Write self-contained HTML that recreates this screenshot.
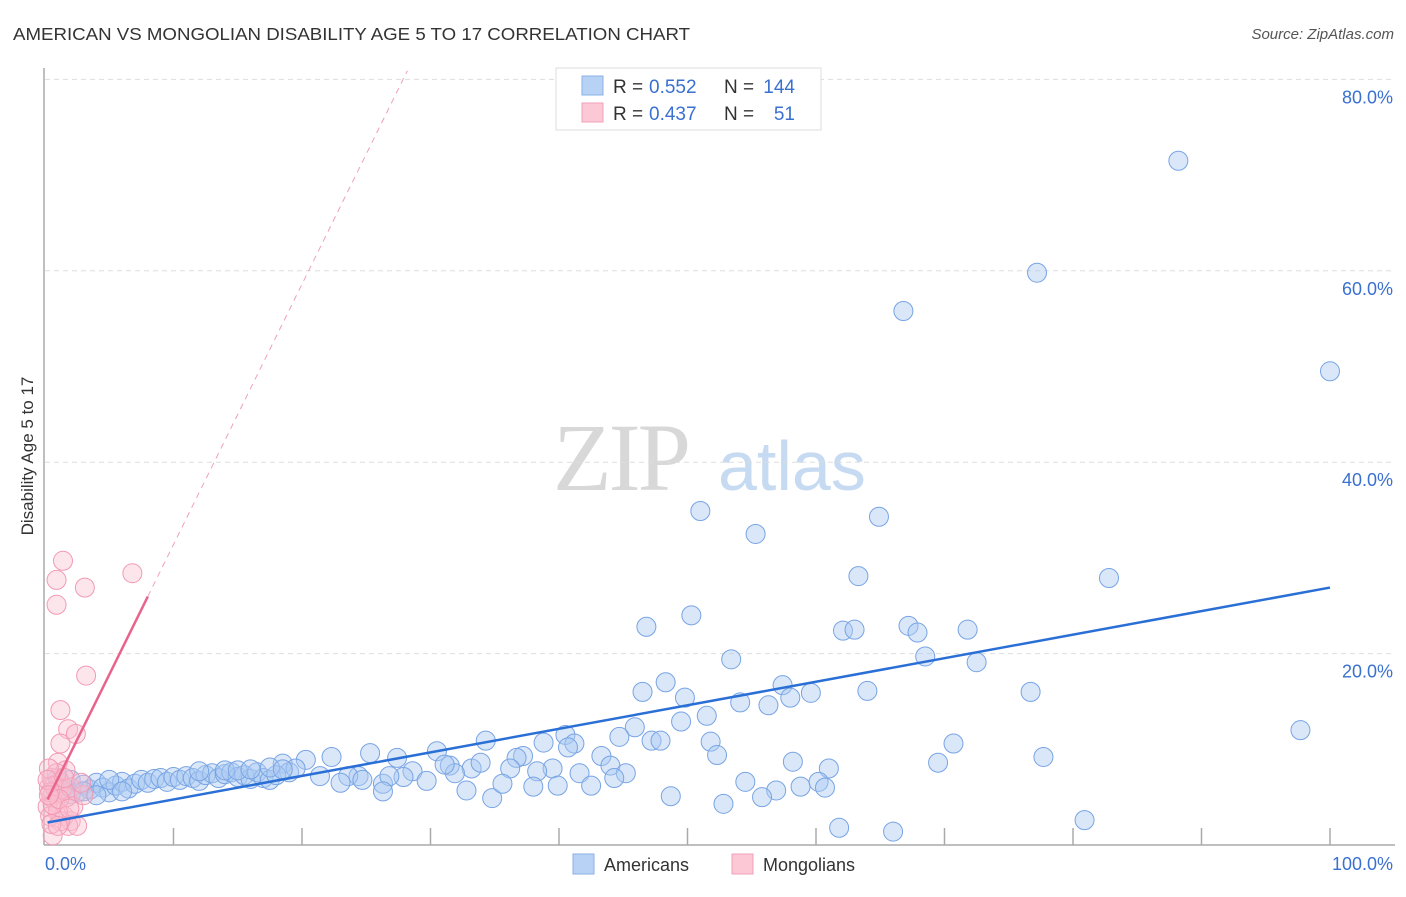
<!DOCTYPE html>
<html><head><meta charset="utf-8"><style>
body{margin:0;background:#fff;font-family:"Liberation Sans",sans-serif;}
</style></head><body>
<svg id="chart" width="1406" height="892" viewBox="0 0 1406 892" xmlns="http://www.w3.org/2000/svg" font-family="Liberation Sans, sans-serif">
<text x="13" y="40" font-size="17.5" fill="#333" textLength="677" lengthAdjust="spacingAndGlyphs">AMERICAN VS MONGOLIAN DISABILITY AGE 5 TO 17 CORRELATION CHART</text>
<text x="1394" y="39" font-size="15" fill="#555" font-style="italic" text-anchor="end">Source: ZipAtlas.com</text>
<g>
<text x="553" y="490" font-size="96" fill="#d8d8d8" style="font-family:'Liberation Serif',serif" letter-spacing="-3">ZIP</text>
<text x="718" y="490" font-size="70" fill="#c6daf2">atlas</text>
</g>
<g id="grid"></g>
<g id="axes"></g>
<g id="pts"></g>
<g id="lines"></g>
<text transform="translate(33,456) rotate(-90)" font-size="17" fill="#333" text-anchor="middle">Disability Age 5 to 17</text>
<text x="45" y="870" font-size="18" fill="#3a70d0">0.0%</text>
<text x="1393" y="870" font-size="18" fill="#3a70d0" text-anchor="end">100.0%</text>
<g>
<rect x="556" y="68" width="265" height="62" fill="#fff" stroke="#ddd"/>
<rect x="582" y="76" width="21" height="19" fill="#b8d2f6" stroke="#8ab0e6"/>
<rect x="582" y="103" width="21" height="19" fill="#fcc8d6" stroke="#f0a0b8"/>
<text x="613" y="93" font-size="19" fill="#333">R =</text>
<text x="649" y="93" font-size="19" fill="#3a70d0">0.552</text>
<text x="724" y="93" font-size="19" fill="#333">N =</text>
<text x="795" y="93" font-size="19" fill="#3a70d0" text-anchor="end">144</text>
<text x="613" y="120" font-size="19" fill="#333">R =</text>
<text x="649" y="120" font-size="19" fill="#3a70d0">0.437</text>
<text x="724" y="120" font-size="19" fill="#333">N =</text>
<text x="795" y="120" font-size="19" fill="#3a70d0" text-anchor="end">51</text>
</g>
<g>
<rect x="573" y="854" width="21" height="20" fill="#b8d2f6" stroke="#8ab0e6"/>
<text x="604" y="871" font-size="18" fill="#333">Americans</text>
<rect x="732" y="854" width="21" height="20" fill="#fcc8d6" stroke="#f0a0b8"/>
<text x="763" y="871" font-size="18" fill="#333">Mongolians</text>
</g>
</svg>
<script>
const yTicks=[20,40,60,80];
const yTickLabels=["20.0%","40.0%","60.0%","80.0%"];
const xTicks=[0,10,20,30,40,50,60,70,80,90,100];
const americansX=[88.2,77.2,66.8,100,51,55.3,64.9,63.3,82.8,46.8,50.3,62.1,63,67.2,67.9,71.8,53.4,68.5,72.5,48.3,46.5,49.8,57.4,59.6,64,76.7,54.1,56.3,58,51.5,49.5,97.7,45.9,44.7,40.5,41.2,40.7,38.8,47.2,47.9,51.8,70.7,52.3,43.3,34.3,30.5,77.7,69.5,58.2,61,37.2,36.7,27.4,25.3,22.3,20.3,18.5,41.6,44,45.2,44.3,39.5,38.3,36.2,33.2,31.5,33.9,31.9,31.1,28.6,27.9,29.7,26.3,26.8,24.4,23.6,24.7,54.5,56.9,58.8,60.2,60.7,55.8,52.8,48.7,34.8,32.8,35.6,38,39.9,42.5,26.3,21.4,23,19,19.5,80.9,61.8,66,
1,1.5,2,2.5,3,3.5,4,4.5,5,5.5,6,6.5,7,7.5,8,8.5,9,9.5,10,10.5,11,11.5,12,12.5,13,13.5,14,14.5,15,15.5,16,16.5,17,17.5,18,2,3,4,5,6,1,0.8,12,14,15,16,17.5,18.5];
const americansY=[71.5,59.8,55.8,49.5,34.9,32.5,34.3,28.1,27.9,22.8,24,22.4,22.5,22.9,22.2,22.5,19.4,19.7,19.1,17,16,15.4,16.7,15.9,16.1,16,14.9,14.6,15.4,13.5,12.9,12,12.3,11.3,11.5,10.6,10.2,10.7,10.9,10.9,10.8,10.6,9.4,9.3,10.9,9.8,9.2,8.6,8.7,8,9.3,9.1,9.1,9.6,9.2,8.9,8.5,7.5,8.3,7.5,7,8,7.7,8,8,8.3,8.6,7.5,8.4,7.7,7.1,6.7,6.4,7.2,7.2,7.2,6.8,6.6,5.7,6.1,6.6,6,5,4.3,5.1,4.9,5.7,6.4,6.1,6.2,6.2,5.6,7.2,6.5,7.6,8,2.6,1.8,1.4,
6.5,6,6.8,5.5,6.3,5.8,6.5,6,5.5,6.2,6.6,5.9,6.4,6.8,6.5,6.9,7,6.6,7.1,6.8,7.2,7,6.7,7.3,7.5,7,7.4,7.6,7.1,7.3,6.9,7.6,7,6.8,7.3,5.3,5.6,5.2,6.8,5.6,7,5.8,7.7,7.8,7.8,7.9,8.1,7.9];
const mongoliansX=[1.4,0.9,6.8,0.9,3.1,3.2,1.2,1.8,2.4,1.2,1,1.6,0.5,0.3,0.8,1,0.5,1.2,0.2,1.5,0.4,2,1.8,2.5,1.2,0.6,2.2,1.7,0.9,0.3,1,0.7,1.3,0.4,0.2,2,1.5,3,0.6,1.1,0.3,1.9,2.8,0.5,1];
const mongoliansY=[29.7,27.7,28.4,25.1,26.9,17.7,14.1,12.1,11.6,10.6,8.6,7.8,5,6,4.5,5.5,7,6.5,4,3,3,2.5,2,2,2.5,1,4,5,7.5,8,3.5,6.2,5.8,5.5,6.8,6,7,5.2,4.2,4.8,5.2,3.8,6.5,2.2,2];
const americanTrend=[2.3,26.9];
const mongolianTrend=[4.2,2.72];

const NS="http://www.w3.org/2000/svg";
const X0=45,X1=1330,Y0=845,YPER=9.57;
function sx(v){return X0+(X1-X0)*v/100;}
function sy(v){return Y0-YPER*v;}
function mk(tag,attrs,parent){const e=document.createElementNS(NS,tag);for(const k in attrs)e.setAttribute(k,attrs[k]);parent.appendChild(e);return e;}
const grid=document.getElementById('grid'),axes=document.getElementById('axes'),pts=document.getElementById('pts'),lines=document.getElementById('lines');
yTicks.forEach((t,i)=>{
  const l=mk('line',{x1:X0,x2:1395,y1:sy(t),y2:sy(t),stroke:'#ddd','stroke-dasharray':'5,4'},grid);
  
  
  const tx=mk('text',{x:1393,y:sy(t)+24,'font-size':18,fill:'#3a70d0','text-anchor':'end'},grid);
  tx.textContent=yTickLabels[i];
  
  
});
const ya=mk('line',{x1:44,x2:44,y1:68,y2:Y0,stroke:'#aaa','stroke-width':1.5},axes);


const xa=mk('line',{x1:44,x2:1395,y1:Y0,y2:Y0,stroke:'#aaa','stroke-width':1.5},axes);


xTicks.slice(1).forEach(t=>{
  const l=mk('line',{x1:sx(t),x2:sx(t),y1:828,y2:Y0,stroke:'#aaa','stroke-width':1.5},axes);
  
  
});
americansX.forEach((v,i)=>{
  const c=mk('circle',{cx:sx(v),cy:sy(americansY[i]),r:9.5,fill:'rgba(170,202,242,0.45)',stroke:'#78a4e4','stroke-width':1},pts);
  
  
});
mongoliansX.forEach((v,i)=>{
  const c=mk('circle',{cx:sx(v),cy:sy(mongoliansY[i]),r:9.5,fill:'rgba(250,190,208,0.4)',stroke:'#f29ab4','stroke-width':1},pts);
  
  
});
const bl=mk('line',{x1:sx(0.2),y1:sy(americanTrend[0]+(americanTrend[1]-americanTrend[0])*0.002),x2:sx(100),y2:sy(americanTrend[1]),stroke:'#2a6fd6','stroke-width':2.5},lines);


const pv=x=>mongolianTrend[0]+mongolianTrend[1]*x;
const pl=mk('line',{x1:sx(0.2),y1:sy(pv(0.2)),x2:sx(8),y2:sy(pv(8)),stroke:'#e8648c','stroke-width':2.5},lines);


const pd=mk('line',{x1:sx(8),y1:sy(pv(8)),x2:sx(28.2),y2:sy(pv(28.2)),stroke:'#f0a0b8','stroke-width':1,'stroke-dasharray':'6,5'},lines);


</script>
</body></html>
